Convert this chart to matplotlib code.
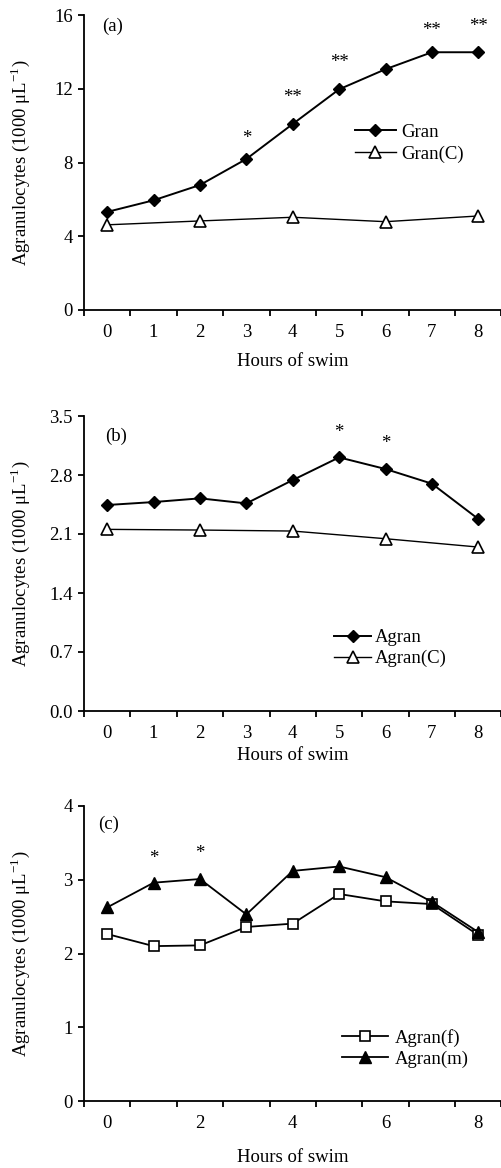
import numpy as np
import matplotlib
matplotlib.use('Agg')
import matplotlib.pyplot as plt
from matplotlib.ticker import FixedLocator

plt.rcParams['font.family'] = ['Liberation Serif', 'DejaVu Serif']
plt.rcParams['mathtext.fontset'] = 'stix'
plt.rcParams['font.size'] = 13.5

# 数据
hours = np.arange(9)
hours_c = np.array([0, 2, 4, 6, 8])

gran = [5.32, 5.95, 6.78, 8.19, 10.09, 11.97, 13.06, 13.98, 13.98]
gran_c = [4.62, 4.83, 5.03, 4.79, 5.10]
sig_a_x = [3, 4, 5, 7, 8]
sig_a_y = [9.3, 11.5, 13.4, 15.15, 15.35]
sig_a_txt = ['*', '**', '**', '**', '**']

agran = [2.444, 2.479, 2.523, 2.463, 2.740, 3.009, 2.871, 2.697, 2.278]
agran_c = [2.155, 2.147, 2.135, 2.044, 1.945]
sig_b_x = [5, 6]
sig_b_y = [3.30, 3.17]
sig_b_txt = ['*', '*']

agran_f = [2.264, 2.10, 2.11, 2.36, 2.405, 2.807, 2.707, 2.67, 2.25]
agran_m = [2.625, 2.96, 3.01, 2.53, 3.12, 3.18, 3.035, 2.70, 2.29]
sig_c_x = [1, 2]
sig_c_y = [3.29, 3.35]
sig_c_txt = ['*', '*']

ylabel = r'Agranulocytes (1000 μL$^{\mathregular{-1}}$)'
xlabel = 'Hours of swim'

fig = plt.figure(figsize=(5.02, 11.68), dpi=100)
left, width, height = 84 / 502, 1 - 84 / 502 - 0.001, 295 / 1168
ax_a = fig.add_axes([left, 1 - 310 / 1168, width, height])
ax_b = fig.add_axes([left, 1 - 711 / 1168, width, height])
ax_c = fig.add_axes([left, 1 - 1101 / 1168, width, height])


def style_axes(ax, ymax, yticks, yfmt, xlabels, xlabelpad):
    ax.set_xlim(-0.5, 8.5)
    ax.set_ylim(0, ymax)
    for s in ['top', 'right']:
        ax.spines[s].set_visible(False)
    for s in ['left', 'bottom']:
        ax.spines[s].set_linewidth(1.3)
    ax.set_yticks(yticks)
    ax.set_yticklabels([yfmt % v for v in yticks])
    ax.set_xticks(xlabels)
    ax.set_xticklabels([str(v) for v in xlabels])
    ax.xaxis.set_minor_locator(FixedLocator(np.arange(-0.5, 9, 1)))
    ax.tick_params(axis='x', which='major', length=0, pad=10)
    ax.tick_params(axis='x', which='minor', length=4, width=1.3, direction='out')
    ax.tick_params(axis='y', length=4, width=1.3, direction='out', pad=4)
    ax.set_xlabel(xlabel, labelpad=xlabelpad)
    ax.set_ylabel(ylabel)
    ax.yaxis.set_label_coords(-0.125, 0.5)


# (a)
ax_a.plot(hours, gran, '-', color='black', lw=1.4, marker='D', ms=6,
          mfc='black', mec='black', label='Gran')
ax_a.plot(hours_c, gran_c, '-', color='black', lw=1.0, marker='^', ms=8,
          mfc='white', mec='black', mew=1.2, label='Gran(C)')
for x, y, t in zip(sig_a_x, sig_a_y, sig_a_txt):
    ax_a.text(x, y, t, ha='center', va='center')
ax_a.text(-0.12, 15.4, '(a)', ha='left', va='center')
style_axes(ax_a, 16, [0, 4, 8, 12, 16], '%d', list(range(9)), 9)
ax_a.legend(loc='center left', bbox_to_anchor=(0.648, 0.566), frameon=False,
            borderpad=0, borderaxespad=0, handlelength=2.2, handletextpad=0.3,
            labelspacing=0.25)

# (b)
ax_b.plot(hours, agran, '-', color='black', lw=1.4, marker='D', ms=6,
          mfc='black', mec='black', label='Agran')
ax_b.plot(hours_c, agran_c, '-', color='black', lw=1.0, marker='^', ms=8,
          mfc='white', mec='black', mew=1.2, label='Agran(C)')
for x, y, t in zip(sig_b_x, sig_b_y, sig_b_txt):
    ax_b.text(x, y, t, ha='center', va='center')
ax_b.text(-0.05, 3.26, '(b)', ha='left', va='center')
style_axes(ax_b, 3.5, [0.0, 0.7, 1.4, 2.1, 2.8, 3.5], '%.1f', list(range(9)), 4)
ax_b.legend(loc='center left', bbox_to_anchor=(0.600, 0.213), frameon=False,
            borderpad=0, borderaxespad=0, handlelength=1.95, handletextpad=0.2,
            labelspacing=0.2)

# (c)
ax_c.plot(hours, agran_f, '-', color='black', lw=1.3, marker='s', ms=7,
          mfc='white', mec='black', mew=1.2, label='Agran(f)')
ax_c.plot(hours, agran_m, '-', color='black', lw=1.3, marker='^', ms=8,
          mfc='black', mec='black', label='Agran(m)')
for x, y, t in zip(sig_c_x, sig_c_y, sig_c_txt):
    ax_c.text(x, y, t, ha='center', va='center')
ax_c.text(-0.2, 3.75, '(c)', ha='left', va='center')
style_axes(ax_c, 4, [0, 1, 2, 3, 4], '%d', [0, 2, 4, 6, 8], 12)
ax_c.legend(loc='center left', bbox_to_anchor=(0.617, 0.178), frameon=False,
            borderpad=0, borderaxespad=0, handlelength=2.45, handletextpad=0.4,
            labelspacing=0.2)

fig.savefig('out.png', dpi=100)
plt.close(fig)
